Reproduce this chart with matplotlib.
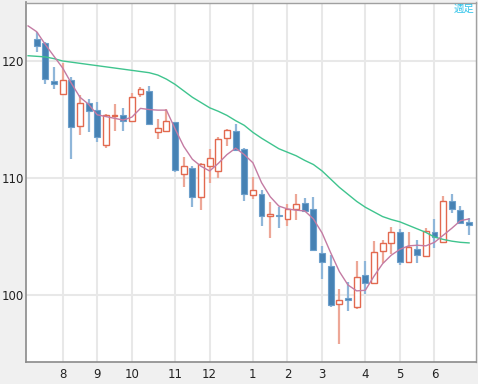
import numpy as np
import matplotlib
matplotlib.use("Agg")
import matplotlib.pyplot as plt

# weekly OHLC
opens  = [121.85, 121.56, 118.26, 117.15, 118.35, 114.42, 116.44, 115.8, 112.85, 115.3,
          115.38, 114.87, 117.2, 117.44, 113.9, 114.0, 114.76, 110.34, 110.83, 108.4,
          111.05, 110.6, 113.45, 114.0, 112.5, 108.55, 108.63, 106.78, 106.8, 106.5,
          107.33, 107.9, 107.35, 103.56, 102.48, 99.23, 99.65, 98.95, 101.7, 101.0,
          103.8, 104.42, 105.36, 102.85, 103.93, 103.33, 105.36, 104.5, 108.06, 107.26, 106.26]
highs  = [122.5, 121.6, 119.5, 119.8, 118.6, 117.1, 116.75, 116.5, 115.45, 116.3,
          115.95, 117.24, 117.8, 117.9, 115.0, 115.9, 114.76, 111.8, 111.05, 111.3,
          112.5, 113.5, 114.2, 114.6, 112.6, 110.05, 108.98, 107.97, 107.5, 107.8,
          108.6, 108.27, 108.35, 104.2, 103.4, 100.5, 101.1, 102.93, 102.9, 104.64,
          104.7, 105.84, 105.6, 105.4, 104.7, 105.75, 106.5, 108.46, 108.6, 107.6, 106.6]
lows   = [120.8, 118.0, 117.6, 117.15, 111.6, 113.65, 113.9, 113.1, 112.6, 114.05,
          114.05, 114.87, 116.9, 114.59, 113.3, 114.0, 110.5, 109.26, 107.5, 107.26,
          109.55, 110.0, 112.75, 112.4, 108.0, 108.2, 105.9, 104.85, 105.75, 105.9,
          106.4, 107.2, 103.85, 101.4, 99.0, 95.8, 98.6, 98.83, 100.1, 101.0,
          102.7, 103.5, 102.56, 102.85, 102.7, 103.3, 104.0, 104.5, 107.03, 106.13, 105.13]
closes = [121.28, 118.49, 118.06, 118.38, 114.33, 116.38, 115.73, 113.53, 115.38, 115.38,
          114.87, 116.95, 117.6, 114.59, 114.3, 114.87, 110.68, 111.05, 108.35, 111.17,
          111.68, 113.3, 114.1, 112.4, 108.6, 108.98, 106.78, 106.8, 106.75, 107.35,
          107.75, 107.2, 103.85, 102.79, 99.15, 99.57, 99.6, 101.5, 101.0, 103.7,
          104.42, 105.36, 102.85, 104.13, 103.42, 105.5, 104.93, 108.06, 107.33, 106.18, 105.98]

# moving averages, one value per week starting one week before the first candle
ma_short = [123.0, 122.5, 121.4, 120.4, 119.4, 118.1, 116.9, 116.3, 115.4, 115.25, 115.1,
            114.95, 115.2, 115.95, 115.85, 115.8, 115.8, 114.2, 112.7, 111.6, 111.0,
            110.6, 111.25, 112.0, 112.55, 112.0, 111.3, 109.6, 108.4, 107.6, 107.35,
            107.25, 107.18, 106.5, 105.3, 103.6, 102.0, 100.85, 100.35, 100.4, 101.6,
            102.67, 103.4, 103.9, 104.2, 104.25, 104.2, 104.5, 105.1, 105.7, 106.35, 106.5]
ma_long = [120.45, 120.4, 120.35, 120.2, 120.0, 119.9, 119.8, 119.7, 119.6, 119.5, 119.4,
           119.3, 119.2, 119.1, 119.0, 118.8, 118.45, 118.0, 117.45, 116.9, 116.45,
           116.0, 115.7, 115.35, 114.9, 114.5, 113.9, 113.4, 112.95, 112.5, 112.2,
           111.9, 111.5, 111.15, 110.6, 109.9, 109.2, 108.6, 108.0, 107.5, 107.1,
           106.7, 106.45, 106.25, 105.95, 105.65, 105.35, 104.95, 104.75, 104.6, 104.5, 104.45]

month_pos = [3, 7, 11, 16, 20, 25, 29, 33, 38, 42, 46]
month_labels = ["8", "9", "10", "11", "12", "1", "2", "3", "4", "5", "6"]
y_ticks = [100, 110, 120]

BLUE, BLUE_WICK = "#4682b4", "#8fb6d9"
RED, RED_WICK = "#e2694f", "#eda797"

fig = plt.figure(figsize=(4.78, 3.84), dpi=100, facecolor="#f0f0f0")
ax = fig.add_axes([26 / 478, 22 / 384, 450 / 478, 359.5 / 384])
ax.set_facecolor("white")

o, h, l, c = map(np.array, (opens, highs, lows, closes))
x = np.arange(len(o))
up = c >= o
w = 0.68

ax.vlines(x[up], l[up], h[up], color=RED_WICK, lw=1.6, zorder=2)
ax.vlines(x[~up], l[~up], h[~up], color=BLUE_WICK, lw=1.6, zorder=2)
body_lo = np.minimum(o, c)
body_h = np.maximum(np.abs(c - o), 0.12)
ax.bar(x[up], body_h[up], w, bottom=body_lo[up], facecolor="white", edgecolor=RED, lw=1.0, zorder=3)
ax.bar(x[~up], body_h[~up], w, bottom=body_lo[~up], facecolor=BLUE, edgecolor="#6c9fcb", lw=0.8, zorder=3)

xm = np.arange(-1, len(ma_short) - 1)
ax.plot(xm, ma_long, color="#3fc48e", lw=1.0, zorder=4)
ax.plot(xm, ma_short, color="#c47ba3", lw=1.0, zorder=4)

ax.set_xlim(-1.24, 50.8)
ax.set_ylim(94.27, 125.0)
ax.set_xticks(month_pos)
ax.set_xticklabels(month_labels)
ax.set_yticks(y_ticks)
ax.grid(True, color="#e8e8e8", lw=1.5, zorder=0)
ax.set_axisbelow(True)
ax.tick_params(length=0, labelsize=8.5, labelcolor="#222222")
ax.tick_params(axis="y", pad=1.5)
ax.tick_params(axis="x", pad=4)
for side in ("left", "bottom"):
    ax.spines[side].set_color("#8a8a8a")
    ax.spines[side].set_linewidth(1.2)
for side in ("top", "right"):
    ax.spines[side].set_color("#a0a0a0")
    ax.spines[side].set_linewidth(1.0)

fig.text(474 / 478, 1 - 4 / 384, "週足", ha="right", va="top", fontsize=7.5,
         color="#33c4ea", family=["Noto Sans CJK JP", "DejaVu Sans"])

fig.savefig("out.png", dpi=100, facecolor=fig.get_facecolor())
